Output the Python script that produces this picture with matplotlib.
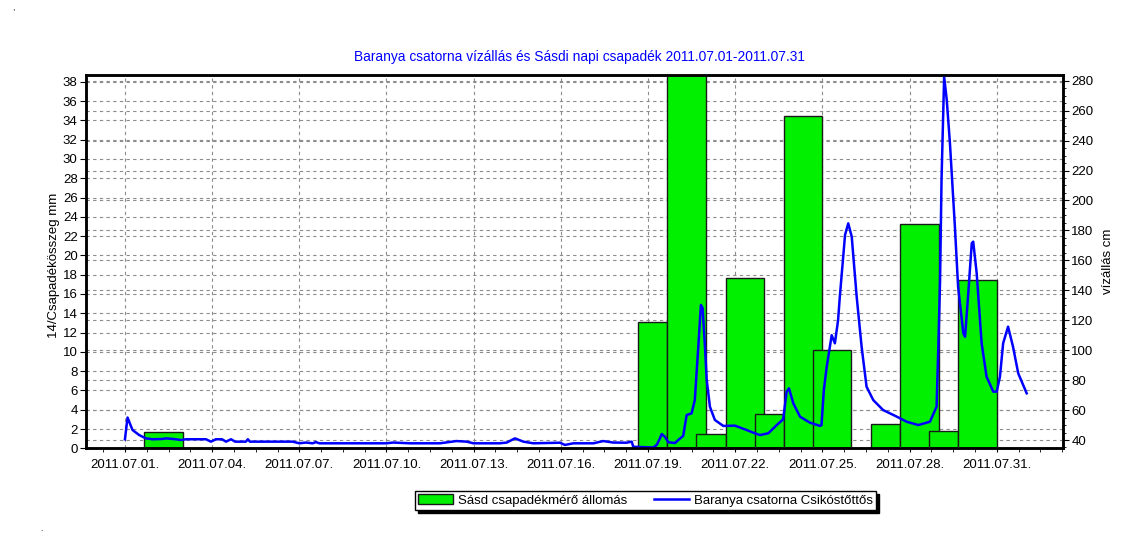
import datetime as dt

import numpy as np
import matplotlib
matplotlib.use("Agg")
import matplotlib.pyplot as plt
import matplotlib.dates as mdates
from matplotlib.ticker import FixedLocator, MultipleLocator
from matplotlib.transforms import blended_transform_factory

plt.rcParams['font.family'] = ['Liberation Sans', 'DejaVu Sans']

title = "Baranya csatorna vízállás és Sásdi napi csapadék 2011.07.01-2011.07.31"
rain_label = "Sásd csapadékmérő állomás"
level_label = "Baranya csatorna Csikóstőttős"
left_label = "14/Csapadékösszeg mm"
right_label = "vízállás cm"

date_labels = ["2011.07.01.", "2011.07.04.", "2011.07.07.", "2011.07.10.",
               "2011.07.13.", "2011.07.16.", "2011.07.19.", "2011.07.22.",
               "2011.07.25.", "2011.07.28.", "2011.07.31."]

# daily precipitation bars (start / end of each bar, mm)
rain_start = ["2011-07-01 16:00", "2011-07-18 16:00", "2011-07-19 16:00",
              "2011-07-20 16:00", "2011-07-21 16:00", "2011-07-22 16:00",
              "2011-07-23 16:00", "2011-07-24 16:00", "2011-07-26 16:00",
              "2011-07-27 16:00", "2011-07-28 16:00", "2011-07-29 16:00"]
rain_end = ["2011-07-03 00:00", "2011-07-19 16:00", "2011-07-21 00:00",
            "2011-07-21 16:00", "2011-07-23 00:00", "2011-07-23 16:00",
            "2011-07-25 00:00", "2011-07-26 00:00", "2011-07-27 16:00",
            "2011-07-29 00:00", "2011-07-29 16:00", "2011-07-31 00:00"]
rain_mm = [1.7, 13.1, 40.0, 1.5, 17.7, 3.6, 34.5, 10.2, 2.5, 23.3, 1.75, 17.4]

# water level, days since 2011-07-01 00:00 and cm
level_day = [0.00, 0.09, 0.26, 0.49, 0.72, 0.95, 1.30, 1.41, 1.75, 1.93,
             2.10, 2.79, 2.96, 3.13, 3.34, 3.48, 3.65, 3.79, 4.16, 4.23,
             4.30, 5.77, 6.00, 6.23, 6.46, 6.57, 6.69, 8.18, 9.00, 9.23,
             9.81, 10.84, 11.41, 11.76, 11.99, 12.90, 13.14, 13.42, 13.71, 14.05,
             14.97, 15.14, 15.43, 16.12, 16.46, 16.80, 17.26, 17.44, 17.49, 18.18,
             18.30, 18.41, 18.47, 18.58, 18.70, 18.93, 19.04, 19.21, 19.33, 19.50,
             19.61, 19.73, 19.82, 19.88, 19.96, 20.02, 20.13, 20.30, 20.59, 20.99,
             21.39, 21.62, 21.85, 22.14, 22.43, 22.65, 22.77, 22.85, 23.00, 23.23,
             23.57, 23.92, 23.97, 24.05, 24.15, 24.32, 24.43, 24.54, 24.60, 24.78,
             24.89, 25.01, 25.18, 25.35, 25.52, 25.75, 26.09, 26.56, 26.90, 27.30,
             27.70, 27.93, 27.99, 28.05, 28.10, 28.19, 28.28, 28.39, 28.56, 28.67,
             28.85, 28.91, 29.02, 29.14, 29.19, 29.31, 29.48, 29.65, 29.88, 30.00,
             30.11, 30.22, 30.39, 30.56, 30.74, 31.03]
level_cm = [40.5, 55.0, 46.7, 43.3, 41.1, 40.5, 40.7, 41.1, 40.5, 40.0,
            40.5, 40.5, 38.9, 40.5, 40.5, 38.9, 40.5, 38.9, 38.9, 40.5,
            38.9, 38.9, 37.8, 38.3, 37.8, 38.6, 37.8, 37.8, 37.8, 38.3,
            37.8, 37.8, 39.3, 38.9, 37.8, 37.8, 38.3, 41.1, 38.9, 37.8,
            38.2, 36.7, 37.8, 37.8, 39.3, 38.3, 38.2, 38.9, 35.5, 35.0,
            36.7, 41.1, 44.0, 42.2, 38.5, 38.0, 40.0, 42.7, 56.7, 57.8,
            66.7, 102.3, 130.2, 128.0, 102.0, 80.0, 62.2, 53.4, 49.4, 49.6,
            46.7, 44.9, 43.3, 44.5, 50.0, 53.8, 72.3, 74.5, 64.5, 55.6,
            51.6, 49.4, 50.0, 73.4, 89.0, 110.0, 104.6, 120.0, 135.7, 177.0,
            184.7, 175.8, 135.7, 102.3, 75.6, 66.7, 60.0, 55.6, 52.2, 50.0,
            52.2, 62.2, 102.3, 146.9, 213.7, 282.7, 267.0, 238.0, 182.5, 142.4,
            111.3, 109.0, 138.0, 171.4, 172.5, 151.4, 104.6, 82.3, 72.3, 72.3,
            82.3, 104.6, 115.7, 102.3, 84.5, 71.2]

mm_ticks = list(range(0, 39, 2))
cm_ticks = list(range(40, 281, 20))

base = mdates.date2num(dt.datetime(2011, 7, 1))
left = mdates.date2num([dt.datetime.fromisoformat(s) for s in rain_start])
right = mdates.date2num([dt.datetime.fromisoformat(s) for s in rain_end])
tick_pos = mdates.date2num([dt.datetime.strptime(s, "%Y.%m.%d.") for s in date_labels])

fig = plt.figure(figsize=(11.35, 5.54), dpi=100)
ax = fig.add_axes([86 / 1135, 1 - 448.3 / 554, 977 / 1135, 373.3 / 554])
ax2 = ax.twinx()

grid_kw = dict(color='#8c8c8c', linestyle=(0, (3, 3)), linewidth=0.8)

bars = ax.bar(left, rain_mm, width=right - left, align='edge', color='#00f000',
              edgecolor='#1a1a1a', linewidth=1, zorder=2)
ax.set_axisbelow(True)
ax.yaxis.grid(True, **grid_kw)
ax.xaxis.grid(True, which='major', **grid_kw)

# right-axis grid drawn behind the bars
trans = blended_transform_factory(ax.transAxes, ax2.transData)
for v in cm_ticks:
    ax.plot([0, 1], [v, v], transform=trans, zorder=0.6, **grid_kw)

line, = ax2.plot(base + np.array(level_day), level_cm, color='#0000ff', lw=1.8)

ax.set_xlim(base - 1.34, base + 32.28)
ax.set_ylim(0, 38.7)
ax2.set_ylim(34.46, 283.8)

ax.xaxis.set_major_locator(FixedLocator(tick_pos))
ax.set_xticklabels(date_labels)
ax.xaxis.set_minor_locator(MultipleLocator(0.75))
ax.tick_params(axis='x', which='both', length=3, pad=5, labelsize=9.5)
ax.set_yticks(mm_ticks)
ax.tick_params(axis='y', length=4, pad=2, labelsize=9.5)
ax2.set_yticks(cm_ticks)
ax2.yaxis.set_minor_locator(MultipleLocator(5))
ax2.tick_params(axis='y', which='major', length=4, pad=2, labelsize=9.5)
ax2.tick_params(axis='y', which='minor', length=2)

for a in (ax, ax2):
    for sp in a.spines.values():
        sp.set_linewidth(1.8)
        sp.set_color('black')

ax.set_ylabel(left_label, fontsize=9.5)
ax.yaxis.set_label_coords(-0.027, 0.49)
ax2.set_ylabel(right_label, fontsize=9.5)
ax2.yaxis.set_label_coords(1.0396, 0.50)

fig.text(579 / 1135, 1 - 57 / 554, title, color='#0000ff', fontsize=9.9,
         ha='center', va='center')
fig.text(12 / 1135, 1 - 10 / 554, ",", fontsize=6)
fig.text(40 / 1135, 1 - 531 / 554, ".", fontsize=6)

leg = fig.legend([bars, line], [rain_label, level_label], loc='center',
                 bbox_to_anchor=(645.5 / 1135, 1 - 500.5 / 554), ncol=2,
                 frameon=True, fancybox=False, framealpha=1,
                 shadow={'color': 'black', 'alpha': 1},
                 edgecolor='black', fontsize=9.5, borderpad=0.25,
                 handlelength=2.65, handletextpad=0.35, columnspacing=2.05)
leg.get_frame().set_linewidth(1)

fig.savefig("out.png", dpi=100)
